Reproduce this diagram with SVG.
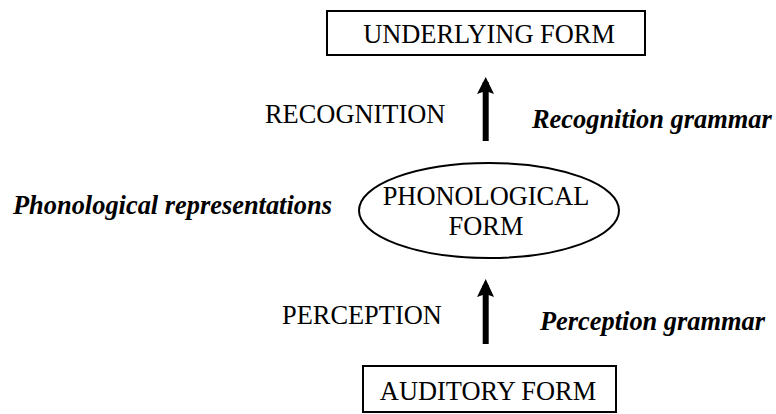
<svg xmlns="http://www.w3.org/2000/svg" width="776" height="414" viewBox="0 0 776 414">
<defs>
<style>
.n{font-family:"Liberation Serif","Times New Roman",serif;font-size:26.4px;fill:#000}
.b{font-family:"Liberation Serif","Times New Roman",serif;font-size:26.4px;font-weight:bold;font-style:italic;fill:#000}
.shape{fill:#fff;stroke:#000;stroke-width:2}
.arr{stroke:#000;stroke-width:6;fill:none}
</style>
<marker id="ah" markerUnits="userSpaceOnUse" markerWidth="18" markerHeight="18" viewBox="0 0 18 18" refX="9" refY="0" orient="auto-start-reverse">
<path d="M0,18 L9,0 L18,18 L9,15 Z" fill="#000"/>
</marker>
</defs>
<rect width="776" height="414" fill="#fff"/>
<g id="underlying">
<rect class="shape" x="327" y="11" width="318" height="44"/>
<text class="n" x="489" y="43" text-anchor="middle">UNDERLYING FORM</text>
</g>
<g id="phonological">
<ellipse class="shape" cx="489" cy="210.5" rx="130" ry="47.5"/>
<text class="n" x="486" y="205" text-anchor="middle">PHONOLOGICAL</text>
<text class="n" x="486" y="235" text-anchor="middle">FORM</text>
</g>
<g id="auditory">
<rect class="shape" x="363" y="366" width="253" height="46"/>
<text class="n" x="488" y="400" text-anchor="middle">AUDITORY FORM</text>
</g>
<g id="connectors">
<line class="arr" x1="485.7" y1="141" x2="485.7" y2="82"/>
<path d="M477,94 L485.7,77 L494,94 L485.7,91 Z" fill="#000"/>
<line class="arr" x1="485.7" y1="344" x2="485.7" y2="285"/>
<path d="M477,297 L485.7,279 L494,297 L485.7,294 Z" fill="#000"/>
</g>
<g id="labels">
<text class="n" x="265" y="123">RECOGNITION</text>
<text class="b" x="532" y="128">Recognition grammar</text>
<text class="b" x="13" y="214">Phonological representations</text>
<text class="n" x="282" y="324">PERCEPTION</text>
<text class="b" x="540" y="330">Perception grammar</text>
</g>
</svg>
